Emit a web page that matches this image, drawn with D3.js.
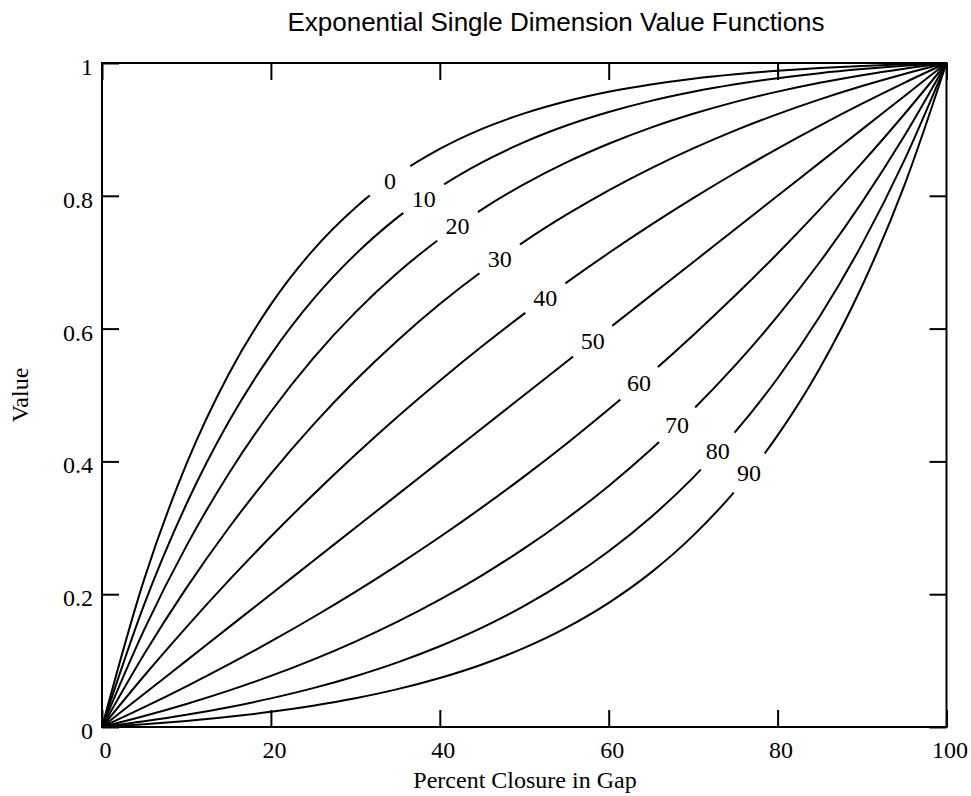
<!DOCTYPE html>
<html><head><meta charset="utf-8">
<script src="https://cdn.jsdelivr.net/npm/d3@7/dist/d3.min.js"></script>
<style>body{margin:0;background:#fff}</style>
</head><body>
<svg id="chart" width="971" height="796"></svg>
<script>
// ---- data ----
const xValues = [0,5,10,15,20,25,30,35,40,45,50,55,60,65,70,75,80,85,90,95,100];
const curveLabels = ["0","10","20","30","40","50","60","70","80","90"];
const value0  = [0,0.2227,0.3961,0.5312,0.6364,0.7183,0.7821,0.8318,0.8705,0.9007,0.9241,0.9424,0.9567,0.9677,0.9764,0.9831,0.9883,0.9924,0.9956,0.9981,1];
const value10 = [0,0.1847,0.3358,0.4596,0.5609,0.6439,0.7118,0.7675,0.8130,0.8503,0.8808,0.9058,0.9262,0.9430,0.9567,0.9679,0.9771,0.9847,0.9908,0.9959,1];
const value20 = [0,0.1466,0.2728,0.3814,0.4748,0.5553,0.6245,0.6841,0.7354,0.7796,0.8176,0.8503,0.8784,0.9027,0.9235,0.9415,0.9569,0.9702,0.9817,0.9915,1];
const value30 = [0,0.1101,0.2096,0.2997,0.3813,0.4551,0.5218,0.5822,0.6369,0.6863,0.7311,0.7715,0.8082,0.8413,0.8713,0.8985,0.9230,0.9452,0.9653,0.9835,1];
const value40 = [0,0.0772,0.1505,0.2204,0.2868,0.3499,0.4100,0.4672,0.5215,0.5733,0.6225,0.6693,0.7138,0.7561,0.7964,0.8347,0.8711,0.9058,0.9388,0.9702,1];
const value50 = [0,0.05,0.10,0.15,0.20,0.25,0.30,0.35,0.40,0.45,0.50,0.55,0.60,0.65,0.70,0.75,0.80,0.85,0.90,0.95,1];
const value60 = [0,0.0298,0.0612,0.0942,0.1289,0.1653,0.2036,0.2439,0.2862,0.3307,0.3775,0.4267,0.4785,0.5328,0.5900,0.6501,0.7132,0.7796,0.8495,0.9228,1];
const value70 = [0,0.0165,0.0347,0.0548,0.0770,0.1015,0.1287,0.1587,0.1918,0.2285,0.2689,0.3137,0.3631,0.4178,0.4782,0.5449,0.6187,0.7003,0.7904,0.8899,1];
const value80 = [0,0.0085,0.0183,0.0298,0.0431,0.0585,0.0765,0.0973,0.1216,0.1497,0.1824,0.2204,0.2646,0.3159,0.3755,0.4447,0.5252,0.6186,0.7272,0.8534,1];
const value90 = [0,0.0041,0.0092,0.0153,0.0229,0.0321,0.0433,0.0570,0.0738,0.0942,0.1192,0.1497,0.1870,0.2325,0.2882,0.3561,0.4391,0.5404,0.6642,0.8153,1];
const labelX = [34.1,38.1,42.1,47.1,52.5,58.1,63.6,68.1,72.9,76.6];
const xTicks = [0,20,40,60,80,100];
const xTickLabels = ["0","20","40","60","80","100"];
const yTicks = [0,0.2,0.4,0.6,0.8,1];
const yTickLabels = ["0","0.2","0.4","0.6","0.8","1"];
const titleText = "Exponential Single Dimension Value Functions";
const xTitle = "Percent Closure in Gap";
const yTitle = "Value";

const series = [value0,value10,value20,value30,value40,value50,value60,value70,value80,value90];

// ---- layout ----
const svg = d3.select("#chart");
const pLeft = 102, pRight = 946.5, pTop = 63, pBottom = 727;
const x = d3.scaleLinear().domain([0,100]).range([pLeft,pRight]);
const y = d3.scaleLinear().domain([0,1]).range([pBottom,pTop]);
const serif = "'Liberation Serif','Times New Roman',serif";
const sans = "'Liberation Sans',Arial,sans-serif";
const fs = 24;

svg.append("rect").attr("width",971).attr("height",796).attr("fill","#fff");

// masks for label gaps
const defs = svg.append("defs");
function interp(vals, xv){
  const i = Math.min(xValues.length-2, Math.max(0, d3.bisectRight(xValues, xv)-1));
  const t = (xv - xValues[i])/(xValues[i+1]-xValues[i]);
  return vals[i] + t*(vals[i+1]-vals[i]);
}
series.forEach((vals,k)=>{
  const m = defs.append("mask").attr("id","gap"+k).attr("maskUnits","userSpaceOnUse")
    .attr("x",0).attr("y",0).attr("width",971).attr("height",796);
  m.append("rect").attr("width",971).attr("height",796).attr("fill","#fff");
  m.append("circle").attr("cx",x(labelX[k])).attr("cy",y(interp(vals,labelX[k]))).attr("r",25).attr("fill","#000");
});

const line = d3.line().x((d,i)=>x(xValues[i])).y(d=>y(d)).curve(d3.curveMonotoneX);
svg.append("g").selectAll("path").data(series).join("path")
  .attr("d",d=>line(d)).attr("fill","none").attr("stroke","#000").attr("stroke-width",2)
  .attr("mask",(d,k)=>"url(#gap"+k+")");

// curve labels
svg.append("g").selectAll("text").data(series).join("text")
  .attr("x",(d,k)=>x(labelX[k])).attr("y",(d,k)=>y(interp(d,labelX[k])))
  .attr("text-anchor","middle").attr("dominant-baseline","central")
  .attr("font-family",serif).attr("font-size",fs).attr("fill","#000")
  .text((d,k)=>curveLabels[k]);

// axes
const gx = svg.append("g").attr("transform",`translate(0,${pBottom})`)
  .call(d3.axisBottom(x).tickValues(xTicks).tickFormat((d,i)=>xTickLabels[i]).tickSizeInner(-17).tickSizeOuter(0).tickPadding(15));
const gy = svg.append("g").attr("transform",`translate(${pLeft},0)`)
  .call(d3.axisLeft(y).tickValues(yTicks).tickFormat((d,i)=>yTickLabels[i]).tickSizeInner(-17).tickSizeOuter(0).tickPadding(9));
const gt = svg.append("g").attr("transform",`translate(0,${pTop})`)
  .call(d3.axisTop(x).tickValues(xTicks).tickFormat("").tickSizeInner(-17).tickSizeOuter(0));
const gr = svg.append("g").attr("transform",`translate(${pRight},0)`)
  .call(d3.axisRight(y).tickValues(yTicks).tickFormat("").tickSizeInner(-17).tickSizeOuter(0));
[gx,gy,gt,gr].forEach(g=>{
  g.select(".domain").remove();
  g.selectAll(".tick line").attr("stroke","#000").attr("stroke-width",2);
  g.selectAll("text").attr("font-family",serif).attr("font-size",fs).attr("fill","#000");
});
gx.selectAll(".tick text").attr("dx",3).attr("dy","0.66em");
gy.selectAll(".tick text").attr("dy","0.48em");

// frame
svg.append("rect").attr("x",pLeft).attr("y",pTop).attr("width",pRight-pLeft).attr("height",pBottom-pTop)
  .attr("fill","none").attr("stroke","#000").attr("stroke-width",2);

// titles
svg.append("text").attr("x",556).attr("y",31).attr("text-anchor","middle")
  .attr("font-family",sans).attr("font-size",26).attr("fill","#000").text(titleText);
svg.append("text").attr("x",525).attr("y",788).attr("text-anchor","middle")
  .attr("font-family",serif).attr("font-size",fs).attr("fill","#000").text(xTitle);
svg.append("text").attr("transform","translate(28,395) rotate(-90)").attr("text-anchor","middle")
  .attr("font-family",serif).attr("font-size",fs).attr("fill","#000").text(yTitle);
</script>
</body></html>
